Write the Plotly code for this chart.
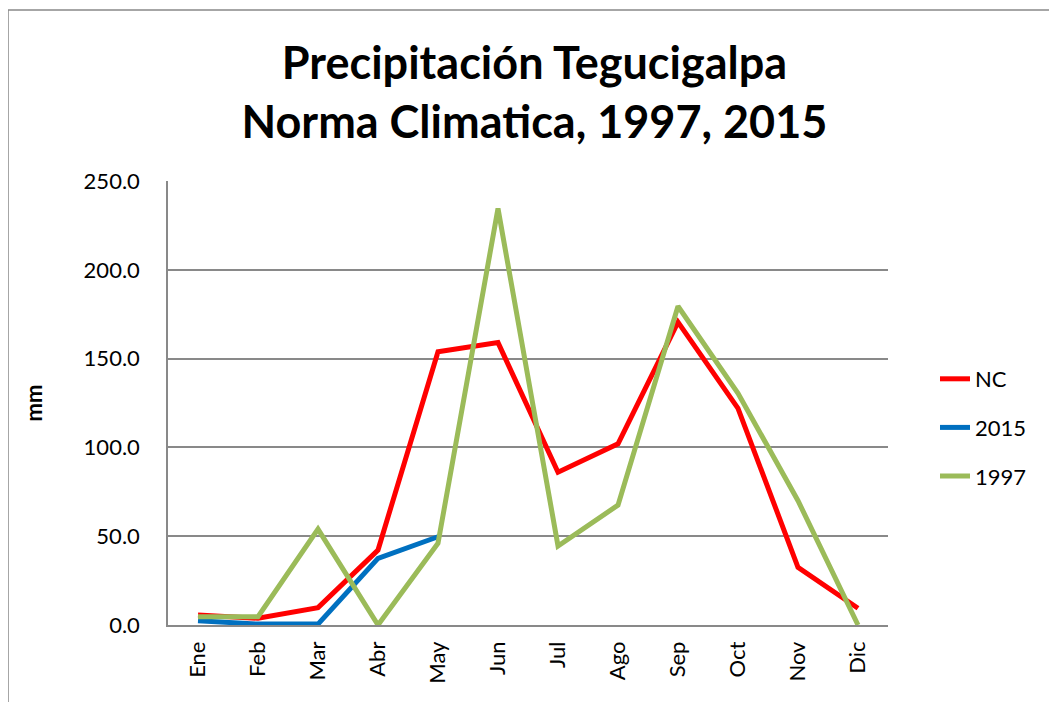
import plotly.graph_objects as go

months = ["Ene", "Feb", "Mar", "Abr", "May", "Jun", "Jul", "Ago", "Sep", "Oct", "Nov", "Dic"]
nc = [5.6, 3.8, 9.8, 42.2, 153.9, 159.0, 86.0, 102.0, 170.5, 122.0, 32.5, 9.4]
y2015 = [2.4, 0.5, 0.5, 37.5, 49.7]
y1997 = [4.7, 4.7, 54.0, 0.0, 46.0, 234.5, 44.5, 67.5, 179.5, 130.5, 70.0, 0.0]
y_ticks = [0, 50, 100, 150, 200, 250]

FONT = "Lato"

fig = go.Figure()
fig.add_trace(go.Scatter(x=months, y=nc, name="NC", mode="lines", legendgroup="a",
                         line=dict(color="#FF0000", width=5)))
fig.add_trace(go.Scatter(x=months[:len(y2015)], y=y2015, name="2015", mode="lines", legendgroup="b",
                         line=dict(color="#0070C0", width=5)))
fig.add_trace(go.Scatter(x=months, y=y1997, name="1997", mode="lines", legendgroup="c",
                         line=dict(color="#9BBB59", width=5)))

OFF = 8  # page body margin
FW, FH = 1057 - OFF, 702 - OFF
L, T, W, H = 168 - OFF, 181 - OFF, 720, 444

def px_x(x):
    return (x - OFF - L) / W

def px_y(y):
    return (T + H - (y - OFF)) / H

fig.update_layout(
    width=FW, height=FH,
    margin=dict(l=L, r=FW - L - W, t=T, b=FH - T - H, autoexpand=False),
    paper_bgcolor="white", plot_bgcolor="white",
    font=dict(family=FONT, color="black", size=22),
    title=dict(
        text="Precipitación Tegucigalpa<br>Norma Climatica, 1997, 2015",
        font=dict(family=FONT, size=45, color="black", weight="bold"),
        x=0.509, xanchor="center", xref="paper",
        y=1 - 71 / FH, yanchor="top", yref="container",
    ),
    xaxis=dict(
        type="category", categoryorder="array", categoryarray=months,
        range=[-0.5, 11.5], showgrid=False, showline=True, linecolor="#898989", linewidth=1.5,
        ticks="", tickangle=-90, tickfont=dict(size=22, family=FONT), ticklabelstandoff=6,
        zeroline=False,
    ),
    yaxis=dict(
        range=[0, 250], tickvals=y_ticks, ticktext=[f"{v:.1f}" for v in y_ticks],
        showgrid=True, gridcolor="#898989", gridwidth=1.5,
        showline=True, linecolor="#898989", linewidth=1.5,
        ticks="", tickfont=dict(size=22, family=FONT), ticklabelstandoff=22,
        zeroline=False,
        title=dict(text="<b>mm</b>", font=dict(size=22, family=FONT), standoff=35),
    ),
    legend=dict(
        x=px_x(935), y=px_y(358), xanchor="left", yanchor="top",
        font=dict(size=22, family=FONT), tracegroupgap=17,
        bgcolor="rgba(0,0,0,0)", itemwidth=30,
    ),
    shapes=[
        dict(type="line", xref="paper", yref="paper",
             x0=px_x(8), x1=px_x(1060), y0=px_y(10), y1=px_y(10),
             line=dict(color="#898989", width=1.5)),
        dict(type="line", xref="paper", yref="paper",
             x0=px_x(8), x1=px_x(8), y0=px_y(10), y1=px_y(705),
             line=dict(color="#898989", width=1.5)),
    ],
)

fig.write_html("out.html")
